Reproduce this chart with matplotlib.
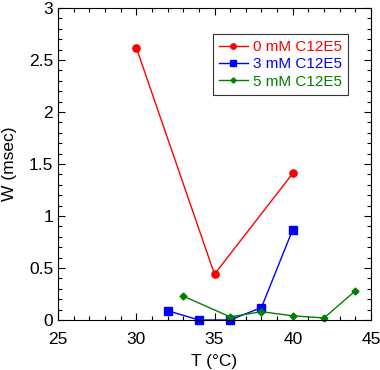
import matplotlib
matplotlib.use("Agg")
import matplotlib.pyplot as plt
from matplotlib.ticker import MultipleLocator

plt.rcParams['font.family'] = ['Liberation Sans', 'DejaVu Sans']

t0 = [30, 35, 40]
w0 = [2.62, 0.44, 1.41]
t3 = [32, 34, 36, 38, 40]
w3 = [0.09, 0.0, 0.0, 0.12, 0.87]
t5 = [33, 36, 38, 40, 42, 44]
w5 = [0.23, 0.03, 0.08, 0.04, 0.02, 0.28]
labels = ['0 mM C12E5', '3 mM C12E5', '5 mM C12E5']
colors = ['#ff0000', '#0000ff', '#008000']

fig = plt.figure(figsize=(3.8, 3.7), dpi=100)
ax = fig.add_axes([58/380, 1-320/370, (371-58)/380, (320-8)/370])

ax.plot(t0, w0, '-o', color=colors[0], lw=1, ms=5.2, label=labels[0], clip_on=False)
ax.plot(t3, w3, '-s', color=colors[1], lw=1, ms=5.2, label=labels[1], clip_on=False)
ax.plot(t5, w5, '-D', color=colors[2], lw=1, ms=3.5, label=labels[2], clip_on=False)

ax.set_xlim(25, 45)
ax.set_ylim(0, 3)
ax.xaxis.set_major_locator(MultipleLocator(5))
ax.xaxis.set_minor_locator(MultipleLocator(1))
ax.yaxis.set_minor_locator(MultipleLocator(0.1))
ax.set_yticks([0, 0.5, 1, 1.5, 2, 2.5, 3])
ax.set_yticklabels(['0', '0.5', '1', '1.5', '2', '2.5', '3'])
ax.tick_params(which='both', direction='in', top=True, right=True, labelsize=12.5)
ax.tick_params(which='major', length=5, width=0.8)
ax.tick_params(which='minor', length=3, width=0.8)
ax.tick_params(axis='x', pad=9)
ax.set_xlabel('T (°C)', fontsize=12.5, labelpad=5)
ax.set_ylabel('W (msec)', fontsize=12.5, labelpad=8.5)

leg = ax.legend(loc='upper right', fontsize=11, frameon=True, fancybox=False,
                edgecolor='black', handlelength=1.9, handletextpad=0.33,
                labelspacing=0.22, borderpad=0.4, borderaxespad=0,
                markerscale=0.75)
leg.set_bbox_to_anchor((348/380, 1 - 34/370), transform=fig.transFigure)
leg.get_frame().set_linewidth(0.8)
for txt, c in zip(leg.get_texts(), colors):
    txt.set_color(c)

fig.savefig('out.png', dpi=100)
